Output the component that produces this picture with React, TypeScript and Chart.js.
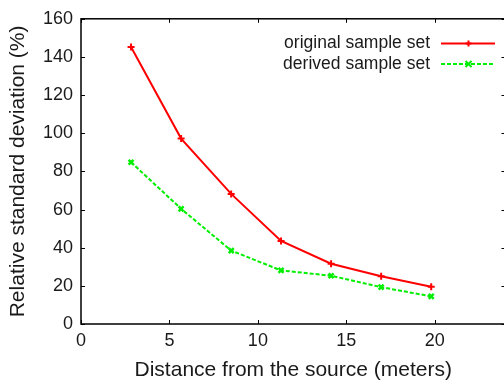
import { useEffect, useRef } from "react";
import { Chart, registerables } from "chart.js";

Chart.register(...registerables);

const distances = [2.83, 5.66, 8.49, 11.31, 14.14, 16.97, 19.8];
const originalSet = [145.2, 97.2, 68.2, 43.5, 31.6, 25.0, 19.5];
const derivedSet = [84.8, 60.4, 38.5, 28.1, 25.3, 19.3, 14.5];
const seriesLabels = ["original sample set", "derived sample set"];
const xTicks = [0, 5, 10, 15, 20];
const yTicks = [0, 20, 40, 60, 80, 100, 120, 140, 160];
const xTitle = "Distance from the source (meters)";
const yTitle = "Relative standard deviation (%)";

const FONT = "'Liberation Sans', Arial, sans-serif";
const TEXT = "#1a1a1a";

const framePlugin = {
  id: "frame",
  beforeDatasetsDraw(chart: any) {
    const { ctx, chartArea } = chart;
    const { left, right, top, bottom } = chartArea;
    const xs = chart.scales.x;
    const ys = chart.scales.y;
    ctx.save();
    ctx.strokeStyle = "#000";
    ctx.lineWidth = 1.5;
    ctx.strokeRect(left, top, right - left, bottom - top);
    ctx.lineWidth = 1;
    const len = 4;
    ctx.beginPath();
    for (const v of xTicks) {
      const px = Math.round(xs.getPixelForValue(v)) + 0.5;
      ctx.moveTo(px, bottom);
      ctx.lineTo(px, bottom - len);
      ctx.moveTo(px, top);
      ctx.lineTo(px, top + len);
    }
    for (const v of yTicks) {
      const py = Math.round(ys.getPixelForValue(v)) + 0.5;
      ctx.moveTo(left, py);
      ctx.lineTo(left + len, py);
      ctx.moveTo(right, py);
      ctx.lineTo(right - len, py);
    }
    ctx.stroke();
    ctx.restore();
  },
};

const legendPlugin = {
  id: "customLegend",
  afterDraw(chart: any) {
    const { ctx } = chart;
    const textRight = 430;
    const lineStart = 441;
    const lineEnd = 495;
    const rows = [43.5, 64];
    ctx.save();
    chart.data.datasets.forEach((ds: any, i: number) => {
      const y = rows[i];
      ctx.font = `17.5px ${FONT}`;
      ctx.fillStyle = TEXT;
      ctx.textAlign = "right";
      ctx.textBaseline = "middle";
      ctx.fillText(ds.label, textRight, y);
      ctx.strokeStyle = ds.borderColor;
      ctx.lineWidth = 2;
      ctx.setLineDash(ds.borderDash || []);
      ctx.beginPath();
      ctx.moveTo(lineStart, y);
      ctx.lineTo(lineEnd, y);
      ctx.stroke();
      ctx.setLineDash([]);
      const cx = (lineStart + lineEnd) / 2 + 0.5;
      const r = 3;
      ctx.beginPath();
      if (ds.pointStyle === "cross") {
        ctx.moveTo(cx - r, y);
        ctx.lineTo(cx + r, y);
        ctx.moveTo(cx, y - r);
        ctx.lineTo(cx, y + r);
      } else {
        ctx.moveTo(cx - r, y - r);
        ctx.lineTo(cx + r, y + r);
        ctx.moveTo(cx - r, y + r);
        ctx.lineTo(cx + r, y - r);
      }
      ctx.stroke();
    });
    ctx.restore();
  },
};

export default function App() {
  const ref = useRef<HTMLCanvasElement | null>(null);
  useEffect(() => {
    if (!ref.current) return;
    const chart = new Chart(ref.current, {
      type: "line",
      data: {
        datasets: [
          {
            label: seriesLabels[0],
            data: distances.map((x, i) => ({ x, y: originalSet[i] })),
            borderColor: "#ff0000",
            backgroundColor: "#ff0000",
            borderWidth: 2,
            pointStyle: "cross",
            pointRadius: 3.5,
            pointBorderWidth: 2,
            tension: 0,
            fill: false,
          },
          {
            label: seriesLabels[1],
            data: distances.map((x, i) => ({ x, y: derivedSet[i] })),
            borderColor: "#00ee00",
            backgroundColor: "#00ee00",
            borderWidth: 2,
            borderDash: [4, 2],
            pointStyle: "crossRot",
            pointRadius: 3.5,
            pointBorderWidth: 2.5,
            tension: 0,
            fill: false,
          },
        ],
      },
      options: {
        responsive: false,
        animation: false,
        layout: { padding: { top: 15, right: 5, left: 0, bottom: 0 } },
        plugins: { legend: { display: false }, tooltip: { enabled: false } },
        scales: {
          x: {
            type: "linear",
            min: 0,
            max: 24,
            afterBuildTicks: (s: any) => {
              s.ticks = xTicks.map((v) => ({ value: v }));
            },
            afterFit: (s: any) => {
              s.height = 63;
            },
            grid: { display: false, drawTicks: false },
            border: { display: false },
            ticks: {
              padding: 6,
              color: TEXT,
              font: { family: FONT, size: 18 },
              maxRotation: 0,
            },
            title: {
              display: true,
              text: xTitle,
              color: TEXT,
              font: { family: FONT, size: 21 },
              padding: { top: 0, bottom: 4 },
            },
          },
          y: {
            type: "linear",
            min: 0,
            max: 160,
            afterBuildTicks: (s: any) => {
              s.ticks = yTicks.map((v) => ({ value: v }));
            },
            afterFit: (s: any) => {
              s.width = 81;
            },
            grid: { display: false, drawTicks: false },
            border: { display: false },
            ticks: {
              padding: 8,
              color: TEXT,
              font: { family: FONT, size: 18 },
            },
            title: {
              display: true,
              text: yTitle,
              color: TEXT,
              font: { family: FONT, size: 21 },
              padding: { top: 6, bottom: 0 },
            },
          },
        },
      },
      plugins: [framePlugin, legendPlugin],
    });
    return () => chart.destroy();
  }, []);
  return (
    <div
      style={{
        position: "fixed",
        left: 0,
        top: 0,
        width: 504,
        height: 387,
        overflow: "hidden",
        background: "#fff",
      }}
    >
      <canvas ref={ref} width={512} height={387} style={{ display: "block" }} />
    </div>
  );
}
